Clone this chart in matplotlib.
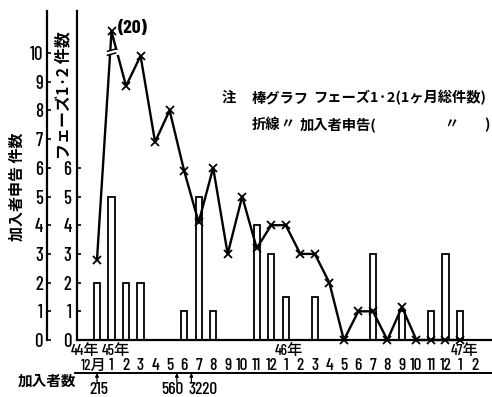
import matplotlib
matplotlib.use("Agg")
import matplotlib.pyplot as plt
from matplotlib import transforms

# ---------------- data ----------------
month_labels = ['12月', '1', '2', '3', '4', '5', '6', '7', '8', '9', '10', '11', '12',
                '1', '2', '3', '4', '5', '6', '7', '8', '9', '10', '11', '12', '1', '2']
year_labels = ['44年', '45年', '46年', '47年']
year_index = [0, 1, 13, 25]

# 加入者申告 件数 (line), Dec 44 .. Jan 47
line_vals = [2.8, 10.75, 8.85, 9.9, 6.9, 8.0, 5.9, 4.1, 6.0, 3.0, 5.0, 3.2, 4.0,
             4.0, 3.0, 3.0, 2.0, 0, 1.0, 1.0, 0, 1.15, 0, 0, 0, 0]
# フェーズ1·2 件数 (bars), Dec 44 .. Feb 47
bar_vals = [2, 5, 2, 2, 0, 0, 1, 5, 1, 0, 0, 4, 3,
            1.5, 0, 1.5, 0, 0, 0, 3, 0, 1, 0, 1, 3, 1, 0]

peak_note = '(20)'
subscriber_labels = ['215', '560', '3220']
subscriber_arrow_idx = [0, 5.5, 6.5]

left_ticks = list(range(0, 11))
right_ticks = list(range(0, 7))

# ---------------- style ----------------
NARROW = ['Barlow Condensed', 'Noto Sans CJK JP', 'DejaVu Sans']
CJK = ['Noto Sans CJK JP', 'DejaVu Sans']
plt.rcParams['font.family'] = NARROW
plt.rcParams['font.weight'] = 500

W, H = 492, 397
fig = plt.figure(figsize=(W / 100, H / 100), dpi=100)

# pixel geometry
x0_px, dx_px = 97.0, 14.52     # month 0 centre, month spacing
y0_px, dy_px = 340.0, 28.7     # baseline, one unit
ax_left, ax_right, ax_top = 77, 492, 11

ax = fig.add_axes([ax_left / W, (H - y0_px) / H, (ax_right - ax_left) / W, (y0_px - ax_top) / H])
ax.set_xlim((ax_left - x0_px) / dx_px, (ax_right - x0_px) / dx_px)
ax.set_ylim(0, (y0_px - ax_top) / dy_px)

for s in ['top', 'right']:
    ax.spines[s].set_visible(False)
ax.spines['left'].set_linewidth(1.6)
ax.spines['bottom'].set_linewidth(1.6)
ax.set_xticks([])
ax.set_yticks(right_ticks)
ax.set_yticklabels([str(t) for t in right_ticks], fontsize=13.5)
ax.tick_params(axis='y', direction='in', length=3, width=1.2, pad=4)

sec = ax.secondary_yaxis(-(ax_left - 47) / (ax_right - ax_left))
sec.set_yticks(left_ticks)
sec.set_yticklabels([str(t) for t in left_ticks], fontsize=13.5)
sec.tick_params(axis='y', direction='in', length=3, width=1.2, pad=3)
sec.spines['left'].set_linewidth(1.6)

# bars
idx_b = [i for i, v in enumerate(bar_vals) if v > 0]
ax.bar(idx_b, [bar_vals[i] for i in idx_b], width=0.43, facecolor='white',
       edgecolor='black', linewidth=1.3, zorder=2)

# line
idx_l = list(range(len(line_vals)))
ax.plot(idx_l, line_vals, color='black', lw=1.7, marker='x', ms=5.5, mew=1.3, zorder=3,
        clip_on=False)

# break mark on the Jan-45 segment
ax.plot([0.72, 1.28], [10.02, 10.02], color='white', lw=3.5, zorder=4)
ax.plot([0.72, 1.28], [9.92, 10.0], color='black', lw=1.1, zorder=5)
ax.plot([0.72, 1.28], [10.06, 10.14], color='black', lw=1.1, zorder=5)
ax.text(1.45, line_vals[1] + 0.12, peak_note, fontsize=14, fontweight='bold',
        ha='left', va='center')

# month / year labels
bt = transforms.blended_transform_factory(ax.transData, fig.transFigure)
month_offsets = [-0.2] + [0] * (len(month_labels) - 1)
for i, lab in enumerate(month_labels):
    fs = 11 if '月' in lab else 12.5
    ax.text(i + month_offsets[i], (H - 366) / H, lab, transform=bt, ha='center',
            va='center', fontsize=fs)
year_offsets = [-0.8, 0.3, 0.2, 0.3]
for lab, i, off in zip(year_labels, year_index, year_offsets):
    ax.text(i + off, (H - 351) / H, lab, transform=bt, ha='center', va='center', fontsize=11)

# subscriber row
fig.add_artist(plt.Line2D([75 / W, 1.0], [(H - 373) / H] * 2, color='black', lw=1.4))
fig.text(18 / W, (H - 381) / H, '加入者数', family=CJK, fontsize=10.5, fontweight='bold',
         ha='left', va='center')
sub_text_off = [0.14, -0.33, 0.8]
for lab, i, off in zip(subscriber_labels, subscriber_arrow_idx, sub_text_off):
    ax.annotate('', xy=(i, (H - 373) / H), xytext=(i, (H - 383) / H), xycoords=bt,
                textcoords=bt, arrowprops=dict(arrowstyle='-|>', color='black', lw=0.9,
                                               mutation_scale=5, shrinkA=0, shrinkB=0))
    ax.text(i + off, (H - 390) / H, lab, transform=bt, ha='center', va='center', fontsize=12.5)

# axis titles (vertical)
fig.text(17 / W, (H - 187) / H, '加入者申告 件数', family=CJK, fontsize=10.8,
         fontweight='bold', rotation=90, ha='center', va='center')
fig.text(63 / W, (H - 95) / H, 'フェーズ1·2 件数', family=CJK, fontsize=11.5,
         fontweight='bold', rotation=90, ha='center', va='center')

# note / legend text
def ftxt(x, y, s, **kw):
    fig.text(x / W, (H - y) / H, s, family=CJK, fontsize=10.3, fontweight='bold',
             ha='left', va='center', **kw)

ftxt(222, 98, '注')
ftxt(252, 98, '棒グラフ')
ftxt(313, 98, 'フェーズ1·2(1ヶ月総件数)')
ftxt(252, 125, '折線')
ftxt(280, 125, '〃')
ftxt(300, 125, '加入者申告(')
ftxt(444, 125, '〃')
ftxt(484, 125, ')')

fig.savefig('out.png', dpi=100)
